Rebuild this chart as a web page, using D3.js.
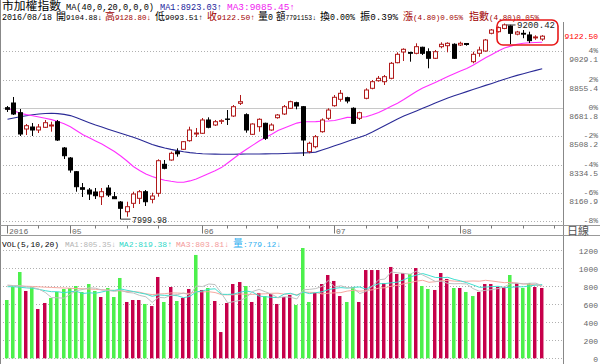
<!DOCTYPE html>
<html><head><meta charset="utf-8">
<script src="https://cdn.jsdelivr.net/npm/d3@7/dist/d3.min.js"></script>
<style>html,body{margin:0;padding:0;background:#fff;}svg{display:block;}</style>
</head><body>
<svg id="c" width="600" height="364"></svg>
<script>
// ---------------- DATA ----------------
const dates = ["04/18","04/19","04/20","04/21","04/22","04/25","04/26","04/27","04/28","04/29",
"05/03","05/04","05/05","05/06","05/09","05/10","05/11","05/12","05/13","05/16","05/17","05/18","05/19","05/20","05/23","05/24","05/25","05/26","05/27","05/30","05/31",
"06/01","06/02","06/03","06/04","06/06","06/07","06/08","06/13","06/14","06/15","06/16","06/17","06/20","06/21","06/22","06/23","06/24","06/27","06/28","06/29","06/30",
"07/01","07/04","07/05","07/06","07/07","07/11","07/12","07/13","07/14","07/15","07/18","07/19","07/20","07/21","07/22","07/25","07/26","07/27","07/28","07/29",
"08/01","08/02","08/03","08/04","08/05","08/08","08/09","08/10","08/11","08/12","08/15","08/16","08/17","08/18"];

const open = [8683.6,8712.5,8653.0,8552.9,8565.2,8546.8,8563.4,8571.4,8597.7,8436.4,
8375.0,8290.9,8192.8,8178.6,8166.4,8137.5,8190.9,8137.5,8105.0,8045.5,8097.0,8127.7,8168.2,8121.6,8158.4,8336.3,8362.7,8413.7,8428.4,8481.2,8522.3,
8526.6,8608.2,8577.5,8600.2,8614.3,8632.7,8710.6,8640.7,8520.4,8567.0,8587.9,8546.8,8622.3,8645.0,8680.0,8714.3,8689.8,8413.7,8444.3,8536.4,8618.6,
8695.9,8735.2,8745.0,8680.0,8618.6,8741.3,8802.7,8849.3,8843.2,8864.0,8959.8,9025.4,9022.3,9017.4,9054.3,9027.2,8986.8,9058.0,9064.1,9072.7,
9068.4,9077.6,8965.9,9017.4,9031.6,9140.2,9150.0,9170.0,9185.0,9135.0,9140.0,9130.0,9112.0,9104.88];
const high = [8694.1,8749.3,8675.7,8583.6,8589.8,8583.6,8608.2,8597.7,8608.2,8442.5,
8381.1,8295.2,8221.6,8190.9,8190.9,8190.9,8209.3,8166.4,8111.1,8106.8,8168.2,8178.6,8178.6,8162.1,8367.0,8362.7,8413.7,8434.5,8479.3,8567.0,8559.1,
8620.4,8624.7,8608.2,8612.5,8669.5,8700.2,8761.6,8649.3,8587.9,8618.6,8591.6,8587.9,8645.0,8700.2,8726.6,8720.5,8694.1,8475.0,8516.1,8618.6,8680.0,
8761.6,8792.2,8751.1,8686.1,8659.1,8802.7,8853.6,8878.2,8884.3,8964.1,9023.6,9048.1,9027.2,9078.8,9058.0,9048.1,9037.7,9084.9,9084.9,9078.8,
9088.6,9080.6,9027.2,9058.0,9105.2,9166.5,9182.0,9200.42,9192.0,9155.0,9160.0,9150.0,9128.0,9128.80];
const low = [8657.3,8638.8,8510.0,8516.1,8510.0,8528.4,8559.1,8536.4,8479.3,8368.9,
8284.8,8168.2,8135.7,8117.3,8123.4,8086.6,8135.7,8123.4,7999.98,8014.8,8068.2,8092.7,8080.5,8097.0,8137.5,8305.7,8358.4,8383.0,8424.1,8475.0,8503.9,
8522.3,8557.2,8571.4,8583.6,8577.5,8626.6,8700.2,8530.2,8516.1,8536.4,8485.4,8542.5,8616.1,8638.8,8675.7,8673.8,8387.3,8403.8,8434.5,8530.2,8608.2,
8689.8,8720.5,8710.6,8583.6,8608.2,8735.2,8796.5,8843.2,8822.9,8857.9,8956.1,8970.2,8965.9,9011.3,9007.0,8925.4,8982.5,9048.1,9023.6,8982.5,
9062.2,9064.1,8956.1,8996.6,9027.2,9134.0,9145.0,9165.0,9074.0,9128.0,9110.0,9080.0,9100.0,9093.51];
const close = [8673.8,8645.0,8522.3,8573.2,8546.8,8565.2,8591.6,8577.5,8485.4,8389.1,
8301.4,8198.9,8183.0,8154.1,8143.7,8168.2,8148.0,8125.3,8066.4,8076.2,8154.1,8168.2,8106.8,8141.8,8358.4,8311.8,8403.8,8401.0,8475.0,8546.8,8528.4,
8608.2,8563.4,8597.7,8603.9,8612.0,8689.8,8720.5,8546.8,8583.6,8612.5,8495.9,8577.5,8638.8,8689.8,8720.5,8694.1,8485.4,8465.2,8505.7,8608.2,8669.5,
8747.5,8772.0,8724.8,8587.9,8653.0,8792.2,8843.2,8864.0,8873.9,8956.1,9011.3,9042.0,9017.4,9058.0,9017.4,8986.8,9027.2,9072.7,9078.8,8986.8,
9078.8,9071.4,9011.3,9037.7,9099.0,9160.4,9175.0,9192.0,9140.0,9148.0,9135.0,9095.0,9117.7,9122.50];
const volume = [646,790,956,746,790,546,613,668,735,768,
779,801,735,823,746,679,779,679,890,624,646,646,602,579,901,624,790,635,668,768,1145,
757,779,635,291,613,823,845,801,624,724,690,712,602,679,701,591,1222,624,724,823,923,
857,690,624,790,624,978,978,978,834,1012,934,945,934,1000,801,768,757,945,879,779,
779,735,690,735,823,823,790,790,923,834,779,834,790,779.12];
const ma40 = [8612.5,8620.4,8627.8,8633.9,8640.1,8645.0,8648.1,8649.3,8647.4,8642.5,
8635.2,8621.7,8606.3,8591.6,8577.5,8564.6,8551.7,8539.4,8527.2,8514.9,8502.6,8488.5,8473.2,8457.8,8446.2,8436.4,8427.8,8420.4,8413.7,8408.1,8403.8,
8400.8,8399.5,8398.9,8398.3,8398.3,8398.3,8398.9,8399.5,8399.5,8399.5,8400.2,8400.8,8401.4,8402.6,8403.8,8405.1,8406.3,8407.5,8411.2,8423.5,8436.4,
8449.9,8462.7,8476.2,8489.7,8502.6,8516.1,8534.5,8554.8,8574.4,8594.7,8614.3,8632.1,8648.1,8664.0,8680.0,8695.9,8711.9,8727.8,8743.8,8756.7,
8769.5,8782.4,8795.3,8808.2,8820.5,8832.7,8845.6,8857.9,8870.2,8881.8,8892.3,8902.7,8912.5,8923.03];
const ma20 = [8680.0,8664.6,8649.9,8641.3,8633.9,8626.6,8619.2,8610.6,8599.0,8584.9,
8566.4,8542.5,8518.0,8498.9,8479.9,8460.3,8437.6,8414.9,8387.3,8356.6,8322.8,8298.3,8276.8,8261.5,8248.6,8238.8,8232.0,8226.5,8225.9,8234.5,8246.1,
8263.3,8280.5,8297.1,8316.1,8344.3,8373.2,8402.6,8428.4,8454.2,8479.3,8500.8,8521.0,8543.1,8559.7,8574.4,8589.1,8597.7,8597.7,8598.4,8600.2,8602.0,
8605.1,8614.3,8624.1,8623.5,8626.0,8627.8,8640.1,8654.8,8673.2,8692.2,8711.3,8734.0,8758.5,8783.0,8804.5,8821.7,8838.9,8856.7,8875.1,8891.7,
8908.2,8924.8,8943.8,8967.1,8989.8,9010.1,9030.9,9050.6,9061.6,9072.7,9079.4,9081.9,9083.7,9085.45];
// volume MA values before a full window is available
const volMa5Head = [812,805,805,793];
const volMa10Head = [793,793,787,780,776,764,749,738,738];
const volMa20Head = [804,802,800,798,796,792,788,785,782,779,776,773,770,767,764,760,756,752,747];

const prevClose = 8681.8;            // 0% reference line
const pctTicks = [4,2,0,-2,-4,-6,-8];
const volTicks = [1200,1000,800,600,400,200,0];
const monthTickIdx = [0,10,31,52,72];
const monthTickLabels = ["2016","05","06","07","08"];
const weekTickIdx = [5,14,19,24,35,38,43,48,57,62,67,77,82,87];

const headerLine1 = [
 {t:"市加權指數", x:2, w:59, c:"#000"},
 {t:"MA(40,0,20,0,0,0)", x:66, w:88, c:"#000"},
 {t:"MA1:8923.03↑", x:160, w:62, c:"#1c1c9c"},
 {t:"MA3:9085.45↑", x:227, w:68, c:"#f020f0"}];
const headerLine2 = [
 {t:"2016/08/18", x:2, w:50, c:"#000"},
 {t:"開9104.88↓", x:56, w:46, c:"#000"},
 {t:"高9128.80↓", x:105, w:46, c:"#a00000"},
 {t:"低9093.51↑", x:155, w:48, c:"#000"},
 {t:"收9122.50↑", x:207, w:48, c:"#a00000"},
 {t:"量0", x:258, w:15, c:"#000"},
 {t:"額7791153↓", x:276, w:40, c:"#000"},
 {t:"換0.00%", x:320, w:35, c:"#000"},
 {t:"振0.39%", x:360, w:38, c:"#000"},
 {t:"漲(4.80)0.05%", x:403, w:60, c:"#a00000"},
 {t:"指數(4.80)0.05%", x:469, w:70, c:"#a00000"}];
const volHeader = [
 {t:"VOL(5,10,20)", x:2, w:57, c:"#000"},
 {t:"MA1:805.35↓", x:65, w:51, c:"#b4b4b4"},
 {t:"MA2:819.38↑", x:119, w:53, c:"#30d8c8"},
 {t:"MA3:803.81↓", x:176, w:53, c:"#f49a9a"},
 {t:"量:779.12↓", x:233, w:48, c:"#30b0f0"}];

// ---------------- DRAW ----------------
const FONT = '"Liberation Mono","DejaVu Sans Mono","Noto Sans CJK TC",monospace';
const svg = d3.select("#c");
svg.append("rect").attr("width",600).attr("height",364).attr("fill","#fff");

const n = dates.length;
const x = d3.scaleLinear().domain([0, n-1]).range([7, 541.7]);
const y = d3.scaleLinear().domain([prevClose*0.92, prevClose*1.04]).range([221.2, 51.4]);
const yv = d3.scaleLinear().domain([0,1200]).range([358.3,250]);
const px = i => Math.round(x(i));

const isCJK = ch => /[\u2E80-\u9FFF\uF900-\uFAFF\uFF00-\uFFEF]/.test(ch);
function segText(g, segs, baseline, cjk){
  segs.forEach(s=>{
    const chars = Array.from(s.t);
    const k = chars.filter(isCJK).length, m = chars.length - k;
    const asz = Math.max(6.8, Math.min(9, (s.w - k*cjk)/(0.6*m)));
    const t = g.append("text").attr("x",s.x).attr("y",baseline).attr("fill",s.c)
      .attr("font-family",FONT).attr("font-size",asz)
      .attr("textLength",s.w).attr("lengthAdjust","spacingAndGlyphs");
    const runs = [];
    chars.forEach(ch=>{ const c = isCJK(ch);
      if (runs.length && runs[runs.length-1].c===c) runs[runs.length-1].s += ch; else runs.push({c, s:ch}); });
    runs.forEach(r=>t.append("tspan").attr("font-size", r.c ? cjk : asz).text(r.s));
  });
}
segText(svg, headerLine1, 10, 11);
segText(svg, headerLine2, 20, 10);

// frame lines
svg.append("line").attr("x1",0.5).attr("x2",0.5).attr("y1",0).attr("y2",364).attr("stroke","#888");
svg.append("line").attr("x1",563.5).attr("x2",563.5).attr("y1",22).attr("y2",364).attr("stroke","#888");
[225.5,235.5].forEach(yy=>svg.append("line").attr("x1",0).attr("x2",600).attr("y1",yy).attr("y2",yy).attr("stroke","#999"));

// price grid + right labels
const pg = svg.append("g");
pctTicks.forEach(p=>{
  const v = prevClose*(1+p/100);
  const yy = Math.round(y(v))+0.5;
  pg.append("line").attr("x1",3).attr("x2",563).attr("y1",yy).attr("y2",yy)
    .attr("stroke", p===0 ? "#c8c8c8" : "#b0b0b0")
    .attr("stroke-dasharray", p===0 ? null : "1,2");
  pg.append("text").attr("x",598).attr("y",yy+1).attr("text-anchor","end")
    .attr("font-family",FONT).attr("font-size",8).attr("fill","#666").text(p+"%");
  if (yy+11 < 224) {
    pg.append("text").attr("x",598).attr("y",yy+10.5).attr("text-anchor","end")
      .attr("font-family",FONT).attr("font-size",8).attr("fill","#666").text(v.toFixed(1));
  }
});
// last close label
svg.append("text").attr("x",598).attr("y",y(close[n-1])+3)
  .attr("text-anchor","end").attr("font-family",FONT).attr("font-size",8).attr("fill","#ff0000")
  .text(close[n-1].toFixed(2));

// clip for price panel
svg.append("clipPath").attr("id","pc").append("rect").attr("x",2).attr("y",21).attr("width",561).attr("height",204);
const pp = svg.append("g").attr("clip-path","url(#pc)");

// MA lines
const line = d3.line().x((d,i)=>x(i)+0.5).y(d=>y(d));
pp.append("path").datum(ma40).attr("d",line).attr("fill","none").attr("stroke","#2a2a96").attr("stroke-width",1.1);
pp.append("path").datum(ma20).attr("d",line).attr("fill","none").attr("stroke","#ff30ff").attr("stroke-width",1.1);

// candles
const UPC = "#b01a1a";
const cg = pp.append("g");
dates.forEach((d,i)=>{
  const up = close[i] >= open[i];
  const col = up ? UPC : "#000";
  const cx = px(i)+0.5;
  cg.append("line").attr("x1",cx).attr("x2",cx).attr("y1",y(high[i])).attr("y2",y(low[i])).attr("stroke",col);
  const top = y(Math.max(open[i],close[i])), bot = y(Math.min(open[i],close[i]));
  cg.append("rect").attr("x",cx-2).attr("y",top).attr("width",4).attr("height",Math.max(0.3,bot-top))
    .attr("fill", up ? "#fff" : "#000").attr("stroke",col).attr("stroke-width",1);
});

// extreme annotations
const iLow = d3.minIndex(low), iHigh = d3.maxIndex(high);
pp.append("path").attr("d",`M${px(iLow)+0.5},${y(low[iLow])}h10`).attr("stroke","#333").attr("fill","none");
svg.append("text").attr("x",px(iLow)+12).attr("y",y(low[iLow])+3.5).attr("font-family",FONT).attr("font-size",8.5)
  .attr("fill","#222").attr("textLength",35).attr("lengthAdjust","spacingAndGlyphs").text(low[iLow].toFixed(2));
pp.append("path").attr("d",`M${px(iHigh)+2.5},${y(high[iHigh])+1.5}h9`).attr("stroke","#333").attr("fill","none");
svg.append("text").attr("x",px(iHigh)+13).attr("y",y(high[iHigh])+5).attr("font-family",FONT).attr("font-size",8.5)
  .attr("fill","#222").attr("textLength",38).attr("lengthAdjust","spacingAndGlyphs").text(high[iHigh].toFixed(2));

// red highlight box
svg.append("rect").attr("x",497).attr("y",20).attr("width",61).attr("height",25).attr("rx",6)
  .attr("fill","none").attr("stroke","#e81818").attr("stroke-width",1.6);

// date axis
const dg = svg.append("g");
weekTickIdx.forEach(i=>dg.append("line").attr("x1",px(i)+0.5).attr("x2",px(i)+0.5).attr("y1",225.5).attr("y2",228.5).attr("stroke","#777"));
monthTickIdx.forEach((i,k)=>{
  dg.append("line").attr("x1",px(i)+0.5).attr("x2",px(i)+0.5).attr("y1",225.5).attr("y2",233.5).attr("stroke","#777");
  dg.append("text").attr("x",px(i)+2).attr("y",233.5).attr("font-family",FONT).attr("font-size",8).attr("fill","#666")
    .text(monthTickLabels[k]);
});
svg.append("text").attr("x",567).attr("y",234.5).attr("font-family",FONT).attr("font-size",11).attr("fill","#555")
  .text("日線");

// volume panel
segText(svg, volHeader, 246.5, 10);
const vg = svg.append("g");
volTicks.forEach(t=>{
  const yy = Math.round(yv(t))+0.5;
  vg.append("line").attr("x1",3).attr("x2",563).attr("y1",yy).attr("y2",yy).attr("stroke","#b0b0b0").attr("stroke-dasharray","1,2");
  vg.append("text").attr("x",598).attr("y",yy+3).attr("text-anchor","end").attr("font-family",FONT).attr("font-size",8)
    .attr("fill","#666").text(t);
});
const prevOf = i => i===0 ? prevClose : close[i-1];
dates.forEach((d,i)=>{
  const up = close[i] >= prevOf(i);
  const cx = px(i);
  const top = yv(volume[i]);
  vg.append("rect").attr("x",cx-2).attr("y",top).attr("width",3).attr("height",yv(0)-top).attr("fill", up ? "#c6004a" : "#4cf04c");
  vg.append("rect").attr("x",cx+1).attr("y",top).attr("width",1).attr("height",yv(0)-top).attr("fill", up ? "#e48aaa" : "#9cf89c");
});
function rolling(arr, k, head){
  return arr.map((v,i)=> i < k-1 ? head[i] : d3.mean(arr.slice(i-k+1,i+1)));
}
const vline = d3.line().x((d,i)=>x(i)+0.5).y(d=>yv(d));
[[rolling(volume,20,volMa20Head),"#f6a8a0"],[rolling(volume,10,volMa10Head),"#40e0d0"],[rolling(volume,5,volMa5Head),"#c0c0c0"]]
 .forEach(([arr,c])=>vg.append("path").datum(arr).attr("d",vline).attr("fill","none").attr("stroke",c).attr("stroke-width",1));
</script>
</body></html>
